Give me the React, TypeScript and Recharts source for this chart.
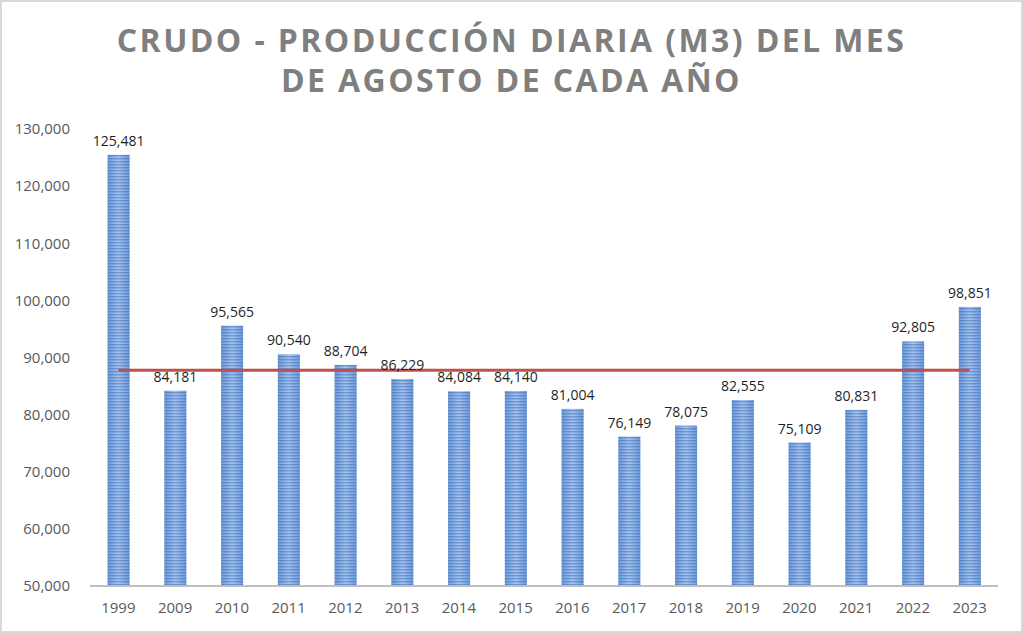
import { Bar, ComposedChart, LabelList, ReferenceLine, XAxis, YAxis } from "recharts";

const years = [
  "1999", "2009", "2010", "2011", "2012", "2013", "2014", "2015",
  "2016", "2017", "2018", "2019", "2020", "2021", "2022", "2023",
];
const produccion = [
  125481, 84181, 95565, 90540, 88704, 86229, 84084, 84140,
  81004, 76149, 78075, 82555, 75109, 80831, 92805, 98851,
];
const promedio = 87769;
const yTicks = [50000, 60000, 70000, 80000, 90000, 100000, 110000, 120000, 130000];
const titleLines = ["CRUDO - PRODUCCIÓN DIARIA (M3) DEL MES", "DE AGOSTO DE CADA AÑO"];

const data = years.map((year, i) => ({ year, value: produccion[i] }));

const fmt = (v: number) => v.toLocaleString("en-US");

function StripedBar(props: any) {
  const { x, y, width, height } = props;
  if (!height || height <= 0) return null;
  return (
    <g>
      <rect x={x} y={y} width={width} height={height} fill="url(#barGrad)" />
      <rect x={x} y={y} width={width} height={height} fill="url(#barStripes)" />
    </g>
  );
}

export default function App() {
  return (
    <div
      style={{
        position: "fixed",
        top: 0,
        left: 0,
        width: 1023,
        height: 633,
        background: "#fff",
        boxSizing: "border-box",
        border: "2px solid #d9d9d9",
        fontFamily: "'Open Sans', sans-serif",
      }}
    >
      <div
        style={{
          position: "absolute",
          top: 18,
          left: 0,
          width: 1019,
          textAlign: "center",
          color: "#7f7f7f",
          fontWeight: 700,
          fontSize: 32,
          letterSpacing: 2.4,
          lineHeight: "40px",
        }}
      >
        {titleLines.map((t) => (
          <div key={t}>{t}</div>
        ))}
      </div>
      <ComposedChart
        width={1019}
        height={629}
        data={data}
        margin={{ top: 127, right: 23, bottom: 15, left: 0 }}
        barCategoryGap="31%"
        style={{ position: "absolute", top: 0, left: 0 }}
      >
        <defs>
          <linearGradient id="barGrad" x1="0" x2="1" y1="0" y2="0">
            <stop offset="0%" stopColor="#6e9ad8" />
            <stop offset="50%" stopColor="#a9c5ee" />
            <stop offset="100%" stopColor="#6e9ad8" />
          </linearGradient>
          <pattern id="barStripes" patternUnits="userSpaceOnUse" width={6} height={3}>
            <rect x={0} y={0} width={6} height={1.4} fill="#3f71bd" fillOpacity={0.55} />
          </pattern>
        </defs>
        <XAxis
          dataKey="year"
          axisLine={{ stroke: "#bfbfbf", strokeWidth: 2 }}
          tickLine={false}
          tickMargin={10}
          tick={{ fontSize: 15, fill: "#595959" }}
        />
        <YAxis
          domain={[50000, 130000]}
          ticks={yTicks}
          tickFormatter={fmt}
          axisLine={false}
          tickLine={false}
          width={88}
          tickMargin={14}
          tick={{ fontSize: 15, fill: "#595959" }}
          allowDataOverflow
        />
        <Bar dataKey="value" shape={<StripedBar />} isAnimationActive={false}>
          <LabelList
            dataKey="value"
            position="top"
            offset={9}
            formatter={(v: any) => fmt(Number(v))}
            style={{ fontSize: 14, fill: "#1f1f1f" }}
          />
        </Bar>
        <ReferenceLine
          segment={[
            { x: years[0], y: promedio },
            { x: years[years.length - 1], y: promedio },
          ]}
          stroke="#c0504d"
          strokeWidth={3}
        />
      </ComposedChart>
    </div>
  );
}
